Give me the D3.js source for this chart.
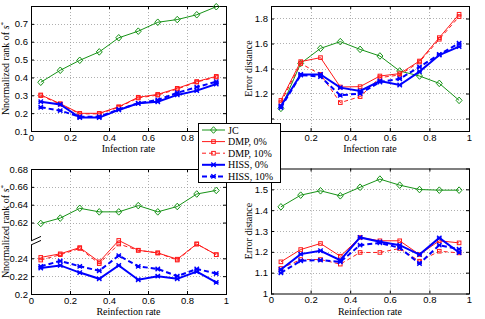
<!DOCTYPE html>
<html><head><meta charset="utf-8">
<script src="https://cdn.jsdelivr.net/npm/d3@7"></script>
<style>body{margin:0;background:#fff}svg{display:block}</style>
</head><body>
<svg id="c" width="485" height="319"></svg>
<script>
// ---- data ----
const rates = [0.05,0.15,0.25,0.35,0.45,0.55,0.65,0.75,0.85,0.95];
const xTicks = [0,0.2,0.4,0.6,0.8,1];

// top-left: normalized rank vs infection rate
const tlJC     = [0.373,0.440,0.496,0.543,0.622,0.659,0.709,0.724,0.751,0.796];
const tlDMP0   = [0.302,0.253,0.199,0.199,0.236,0.289,0.305,0.339,0.377,0.406];
const tlDMP10  = [0.298,0.250,0.196,0.196,0.233,0.285,0.301,0.335,0.374,0.402];
const tlHISS0  = [0.264,0.249,0.175,0.175,0.218,0.255,0.264,0.302,0.326,0.363];
const tlHISS10 = [0.233,0.214,0.180,0.180,0.221,0.255,0.274,0.314,0.346,0.376];
const tlYTicks = [0.1,0.2,0.3,0.4,0.5,0.6,0.7];

// top-right: error distance vs infection rate
const trJC     = [1.081,1.441,1.561,1.615,1.553,1.500,1.380,1.340,1.281,1.145];
const trDMP0   = [1.145,1.455,1.487,1.252,1.255,1.340,1.359,1.460,1.647,1.834];
const trDMP10  = [1.127,1.440,1.353,1.127,1.175,1.327,1.348,1.452,1.634,1.815];
const trHISS0  = [1.100,1.353,1.353,1.247,1.220,1.300,1.268,1.375,1.508,1.575];
const trHISS10 = [1.087,1.348,1.335,1.185,1.200,1.292,1.318,1.412,1.513,1.602];
const trYTicks = [1,1.2,1.4,1.6,1.8];

// bottom-left: normalized rank vs reinfection rate (broken axis)
const blJC     = [0.619,0.625,0.636,0.632,0.632,0.639,0.632,0.638,0.652,0.656];
const blDMP0   = [0.241,0.245,0.252,0.236,0.260,0.249,0.246,0.239,0.256,0.244];
const blDMP10  = [0.238,0.244,0.251,0.234,0.256,0.249,0.246,0.238,0.256,0.244];
const blHISS0  = [0.229,0.232,0.224,0.217,0.232,0.216,0.220,0.217,0.225,0.213];
const blHISS10 = [0.231,0.237,0.231,0.226,0.243,0.231,0.228,0.220,0.228,0.223];
const blYTicks = [0.2,0.22,0.24,0.62,0.64,0.66,0.68];

// bottom-right: error distance vs reinfection rate
const brJC     = [1.416,1.472,1.493,1.469,1.510,1.549,1.520,1.499,1.496,1.496];
const brDMP0   = [1.152,1.211,1.240,1.179,1.269,1.253,1.253,1.187,1.253,1.243];
const brDMP10  = [1.120,1.163,1.163,1.141,1.197,1.197,1.216,1.155,1.203,1.195];
const brHISS0  = [1.115,1.189,1.205,1.160,1.269,1.248,1.232,1.187,1.267,1.197];
const brHISS10 = [1.099,1.157,1.160,1.152,1.232,1.243,1.219,1.144,1.232,1.213];
const brYTicks = [1,1.1,1.2,1.3,1.4,1.5,1.6];

const seriesNames = ["JC","DMP, 0%","DMP, 10%","HISS, 0%","HISS, 10%"];

// ---- styles ----
const GREEN="#179317", RED="#ff1a1a", BLUE="#0000ff";
const styles = [
  {color:GREEN, w:1, dash:null, marker:"diamond"},
  {color:RED, w:1, dash:null, marker:"square"},
  {color:RED, w:1, dash:"4,3", marker:"square"},
  {color:BLUE, w:2, dash:null, marker:"x"},
  {color:BLUE, w:2, dash:"5,3", marker:"x"}
];
const BREAK = 0.34; // values above the break are shifted down by this
const LEG = {x:198.5, y:123.5, w:82, h:59};

const svg = d3.select("#c");

function marker(g, type, cx, cy, color){
  if(type==="diamond"){
    g.append("path").attr("d",`M${cx},${cy-3.3}L${cx+3},${cy}L${cx},${cy+3.3}L${cx-3},${cy}Z`)
     .attr("fill","none").attr("stroke",color).attr("stroke-width",1);
  } else if(type==="square"){
    g.append("rect").attr("x",cx-1.8).attr("y",cy-1.8).attr("width",3.6).attr("height",3.6)
     .attr("fill","none").attr("stroke",color).attr("stroke-width",1);
  } else {
    g.append("path").attr("d",`M${cx-2.2},${cy-2.2}L${cx+2.2},${cy+2.2}M${cx-2.2},${cy+2.2}L${cx+2.2},${cy-2.2}M${cx-2.4},${cy}L${cx+2.4},${cy}`)
     .attr("stroke",color).attr("stroke-width",1.4).attr("fill","none");
  }
}

function panel(cfg){
  const x = d3.scaleLinear().domain([0,1]).range([cfg.x0,cfg.x1]);
  const ys = d3.scaleLinear().domain(cfg.ydom).range([cfg.y1,cfg.y0]);
  const map = cfg.broken ? (v => v>0.4 ? v-BREAK : v) : (v => v);
  const y = v => ys(map(v));
  const g = svg.append("g");

  // gridlines
  const grid = g.append("g").attr("stroke","#9a9a9a").attr("stroke-width",0.8).attr("stroke-dasharray","1,2");
  xTicks.filter(t=>t>0&&t<1).forEach(t=>{
    grid.append("line").attr("x1",Math.round(x(t))+0.5).attr("x2",Math.round(x(t))+0.5).attr("y1",cfg.y0).attr("y2",cfg.y1);
  });
  cfg.yticks.forEach(t=>{
    const yy = Math.round(y(t))+0.5;
    if(Math.abs(yy-cfg.y0)<2||Math.abs(yy-cfg.y1)<2) return;
    grid.append("line").attr("y1",yy).attr("y2",yy).attr("x1",cfg.x0).attr("x2",cfg.x1);
  });

  // axes
  const fmt = d3.format("~g");
  const tv = cfg.yticks.map(map);
  g.append("g").attr("transform",`translate(0,${cfg.y1})`)
    .call(d3.axisBottom(x).tickValues(xTicks).tickSizeInner(-3).tickSizeOuter(0).tickPadding(3).tickFormat(fmt));
  g.append("g").attr("transform",`translate(${cfg.x0},0)`)
    .call(d3.axisLeft(ys).tickValues(tv).tickSizeInner(-3).tickSizeOuter(0).tickPadding(3)
      .tickFormat((d,i)=>fmt(cfg.yticks[i])));
  g.append("g").attr("transform",`translate(0,${cfg.y0})`)
    .call(d3.axisTop(x).tickValues(xTicks).tickSizeInner(-3).tickSizeOuter(0).tickFormat(""));
  g.append("g").attr("transform",`translate(${cfg.x1},0)`)
    .call(d3.axisRight(ys).tickValues(tv).tickSizeInner(-3).tickSizeOuter(0).tickFormat(""));
  g.selectAll(".domain").remove();
  g.selectAll(".tick text").attr("font-family","Liberation Sans, Arial, sans-serif").attr("font-size","9.5px").attr("fill","#000");
  g.selectAll(".tick line").attr("stroke","#000");
  // tick labels that sit under the legend box are hidden by it in the reference
  g.selectAll(".tick text").each(function(){
    const b = this.getBoundingClientRect();
    if(b.right>LEG.x && b.left<LEG.x+LEG.w && b.bottom>LEG.y && b.top<LEG.y+LEG.h) d3.select(this).remove();
  });
  g.append("rect").attr("x",cfg.x0+0.5).attr("y",cfg.y0+0.5).attr("width",cfg.x1-cfg.x0).attr("height",cfg.y1-cfg.y0)
    .attr("fill","none").attr("stroke","#000").attr("stroke-width",1);

  // series
  const line = d3.line().x((d,i)=>x(rates[i])).y(d=>y(d));
  cfg.data.forEach((vals,k)=>{
    const s = styles[k];
    g.append("path").attr("d",line(vals)).attr("fill","none").attr("stroke",s.color)
      .attr("stroke-width",s.w).attr("stroke-dasharray",s.dash);
    vals.forEach((v,i)=>marker(g,s.marker,x(rates[i]),y(v),s.color));
  });

  // labels
  g.append("text").attr("x",(cfg.x0+cfg.x1)/2).attr("y",cfg.y1+21).attr("text-anchor","middle")
    .attr("font-family","Liberation Serif, serif").attr("font-size","10px").text(cfg.xlabel);
  const yl = g.append("text").attr("transform",`translate(${cfg.x0-cfg.ylOff},${(cfg.y0+cfg.y1)/2}) rotate(-90)`)
    .attr("text-anchor","middle").attr("font-family","Liberation Serif, serif").attr("font-size","10px");
  if(cfg.sstar){
    yl.append("tspan").text("Nnormalized rank of ");
    yl.append("tspan").attr("font-style","italic").text("s");
    yl.append("tspan").attr("font-size","7px").attr("dy","-4").text("*");
  } else yl.text(cfg.ylabel);

  if(cfg.broken){
    const yb = ys(0.26);
    g.append("path").attr("d",`M${cfg.x0-1},${yb+1}L${cfg.x0+9},${yb-3.5}L${cfg.x0+9},${yb+0.5}L${cfg.x0-1},${yb+5}Z`).attr("fill","#fff");
    g.append("path").attr("d",`M${cfg.x0},${yb+0.5}L${cfg.x0+10},${yb-4}M${cfg.x0},${yb+4.5}L${cfg.x0+10},${yb}`)
      .attr("stroke","#000").attr("stroke-width",1).attr("fill","none");
  }
}

panel({x0:31,x1:226,y0:6,y1:131,ydom:[0.1,0.8],yticks:tlYTicks,data:[tlJC,tlDMP0,tlDMP10,tlHISS0,tlHISS10],
  xlabel:"Infection rate",sstar:true,ylOff:22});
panel({x0:271,x1:469,y0:6,y1:131,ydom:[0.9,1.9],yticks:trYTicks,data:[trJC,trDMP0,trDMP10,trHISS0,trHISS10],
  xlabel:"Infection rate",ylabel:"Error distance",ylOff:19});
panel({x0:31,x1:226,y0:169,y1:294,ydom:[0.2,0.34],yticks:blYTicks,data:[blJC,blDMP0,blDMP10,blHISS0,blHISS10],
  xlabel:"Reinfection rate",sstar:true,ylOff:22,broken:true});
panel({x0:271,x1:469,y0:168.5,y1:293.5,ydom:[1,1.6],yticks:brYTicks,data:[brJC,brDMP0,brDMP10,brHISS0,brHISS10],
  xlabel:"Reinfection rate",ylabel:"Error distance",ylOff:19});

// legend
const lg = svg.append("g");
lg.append("rect").attr("x",LEG.x).attr("y",LEG.y).attr("width",LEG.w).attr("height",LEG.h).attr("fill","#fff").attr("stroke","#000");
seriesNames.forEach((n,k)=>{
  const s = styles[k], yy = 130+k*11.6;
  lg.append("line").attr("x1",202).attr("x2",225).attr("y1",yy).attr("y2",yy).attr("stroke",s.color)
    .attr("stroke-width",s.w).attr("stroke-dasharray",s.dash);
  marker(lg,s.marker,213.5,yy,s.color);
  lg.append("text").attr("x",228).attr("y",yy+3.5).attr("font-family","Liberation Serif, serif").attr("font-size","10px").text(n);
});
</script>
</body></html>
